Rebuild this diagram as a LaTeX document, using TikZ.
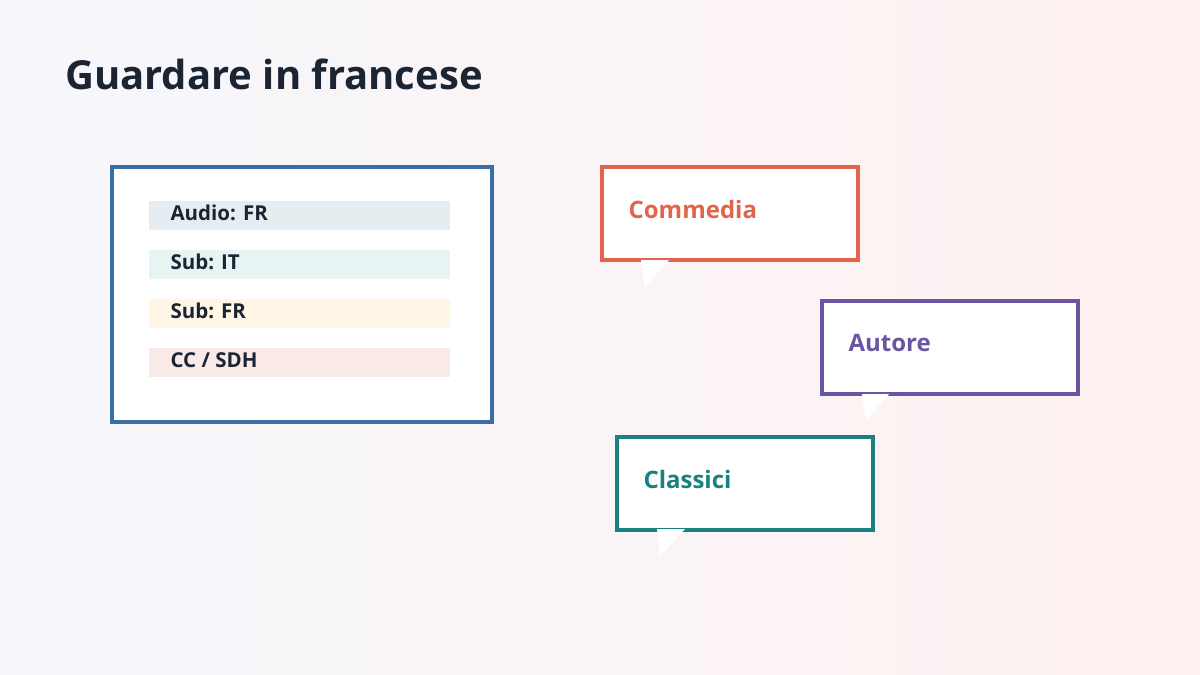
\documentclass[tikz,border=0pt]{standalone}
\usepackage{fontspec}
\setmainfont{Open Sans}
\begin{document}
\begin{tikzpicture}[x=1pt,y=-1pt,
  bar/.style={minimum width=301pt,minimum height=29pt,anchor=north west,inner sep=0pt},
  bt/.style={anchor=west,font=\fontsize{20.5}{24}\selectfont\bfseries,text=ttl},
  bub/.style={draw=#1,line width=3.5pt,fill=white,anchor=north west,minimum width=256pt,minimum height=93pt,inner sep=0pt},
  bl/.style={anchor=west,font=\fontsize{24}{28}\selectfont\bfseries,text=#1},
  tail/.style={fill=white,draw=none}]
\definecolor{bg1}{HTML}{F6F7FC}\definecolor{bg2}{HTML}{FEF1F0}
\definecolor{blu}{HTML}{3A6EA5}\definecolor{ora}{HTML}{E0654A}
\definecolor{pur}{HTML}{6B55A3}\definecolor{tea}{HTML}{1A8080}
\definecolor{ttl}{HTML}{1B2433}
\definecolor{f1}{HTML}{E6EDF0}\definecolor{f2}{HTML}{E8F4F4}
\definecolor{f3}{HTML}{FFF6E6}\definecolor{f4}{HTML}{F9EAE8}
\useasboundingbox (0,0) rectangle (1200,675);
\shade[left color=bg1,right color=bg2,shading angle=90] (0,0) rectangle (1200,675);
\node[anchor=base west,inner sep=0pt,font=\fontsize{40}{46}\selectfont\bfseries,text=ttl] (title) at (65,89) {Guardare in francese};
\node[draw=blu,line width=4pt,fill=white,minimum width=380pt,minimum height=255pt,anchor=north west,inner sep=0pt] (panel) at (110,165) {};
\node[bar,fill=f1] (b1) at (149,201) {};
\node[bar,fill=f2] (b2) at (149,250) {};
\node[bar,fill=f3] (b3) at (149,299) {};
\node[bar,fill=f4] (b4) at (149,348) {};
\node[bt] at ([xshift=18pt,yshift=3pt]b1.west) {Audio: FR};
\node[bt] at ([xshift=18pt,yshift=3pt]b2.west) {Sub: IT};
\node[bt] at ([xshift=18pt,yshift=3pt]b3.west) {Sub: FR};
\node[bt] at ([xshift=18pt,yshift=3pt]b4.west) {CC / SDH};
\node[bub=ora] (c) at (600,165) {};
\node[bub=pur] (a) at (820,299) {};
\node[bub=tea] (k) at (615,435) {};
\fill[tail] (641,260) -- (669,260) -- (645,287) -- cycle;
\fill[tail] (862,394) -- (889,394) -- (866,421) -- cycle;
\fill[tail] (657,529) -- (685,529) -- (660,556) -- cycle;
\node[bl=ora] at ([xshift=25pt,yshift=4pt]c.west) {Commedia};
\node[bl=pur] at ([xshift=25pt,yshift=4pt]a.west) {Autore};
\node[bl=tea] at ([xshift=25pt,yshift=4pt]k.west) {Classici};
\end{tikzpicture}
\end{document}
